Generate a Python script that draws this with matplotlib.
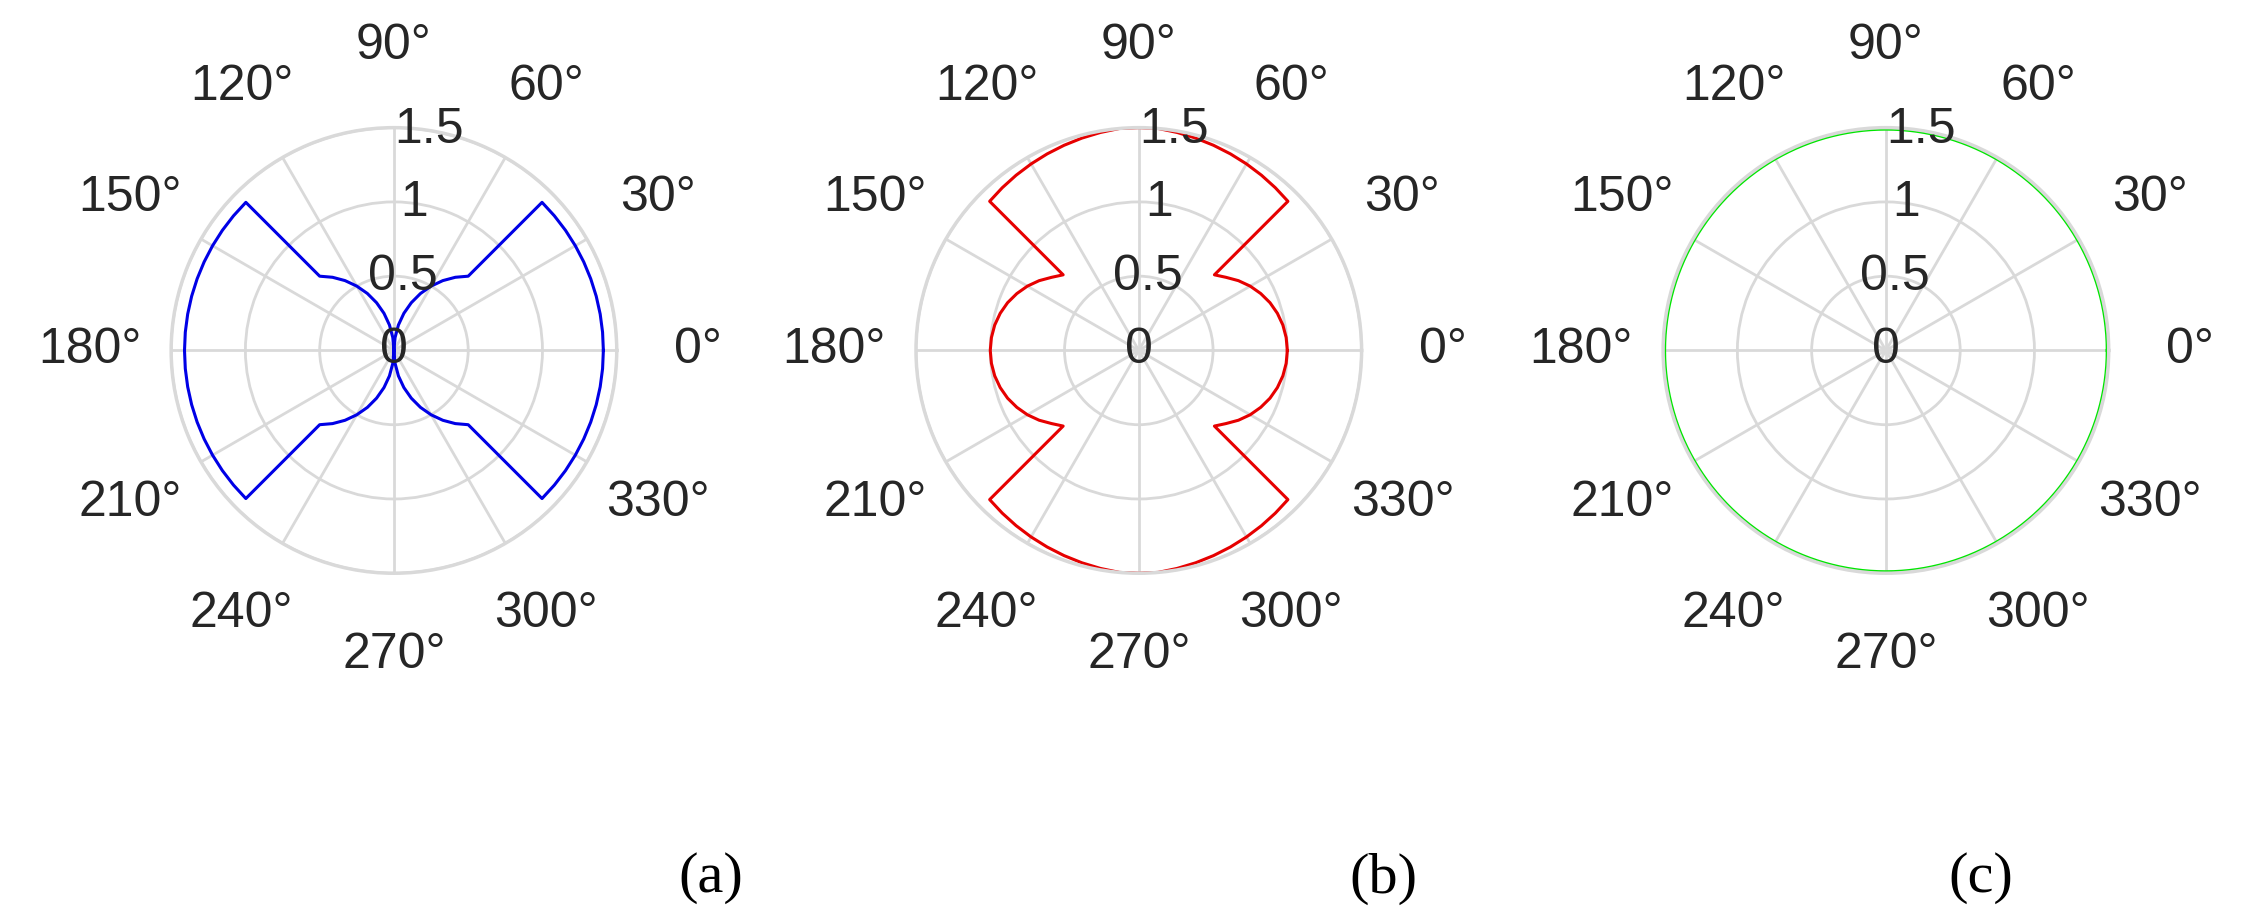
import numpy as np
import matplotlib.pyplot as plt

plt.rcParams['font.family'] = ['Liberation Sans', 'DejaVu Sans']

# quarter-curve values (0..90 deg); the rest follows by symmetry
q_angles = [0, 5, 10, 15, 20, 25, 30, 35, 40, 45, 45, 50, 55, 60, 65, 70, 75, 80, 85, 90]
r_a = [1.41, 1.41, 1.41, 1.41, 1.41, 1.41, 1.41, 1.41, 1.41, 1.41,
       0.707, 0.643, 0.574, 0.5, 0.423, 0.342, 0.259, 0.174, 0.087, 0.0]
r_b = [1.0, 0.996, 0.985, 0.966, 0.94, 0.906, 0.866, 0.819, 0.766, 0.72,
       1.42, 1.43, 1.44, 1.45, 1.46, 1.47, 1.48, 1.49, 1.5, 1.5]
r_c = 1.49
colors = ['#0000e6', '#e60000', '#00e600']
sub_labels = ['(a)', '(b)', '(c)']
rticks = [0, 0.5, 1, 1.5]
rtick_labels = ['0', '0.5', '1', '1.5']
theta_ticks = list(range(0, 360, 30))


def full_curve(angles, radii):
    a = np.array(angles, float)
    r = np.array(radii, float)
    # mirror quarter to 90..180, then upper half to lower half
    a2 = np.concatenate([a, 180 - a[::-1]])
    r2 = np.concatenate([r, r[::-1]])
    a3 = np.concatenate([a2, 360 - a2[::-1]])
    r3 = np.concatenate([r2, r2[::-1]])
    return np.deg2rad(a3), r3


fig = plt.figure(figsize=(22.64, 9.15), dpi=100)
centers = [0.174, 0.503, 0.833]
w, h = 0.197, 0.487
curves = [full_curve(q_angles, r_a), full_curve(q_angles, r_b),
          (np.linspace(0, 2 * np.pi, 361), np.full(361, r_c))]

for i, cx in enumerate(centers):
    ax = fig.add_axes([cx - w / 2, 0.617 - h / 2, w, h], projection='polar')
    th, rr = curves[i]
    ax.plot(th, rr, color=colors[i], lw=2.2)
    ax.set_rlim(0, 1.5)
    ax.set_thetagrids(theta_ticks, [''] * len(theta_ticks))
    for d in theta_ticks:
        ax.text(np.deg2rad(d), 2.05, f'{d}°', ha='center', va='center',
                fontsize=36, color='#262626', clip_on=False)
    ax.set_rticks(rticks)
    ax.set_yticklabels([])
    for rv, lab in zip(rticks, rtick_labels):
        ax.text(np.deg2rad(90) if rv == 0 else np.deg2rad(84 - 2 * rv), rv, lab,
                ha='center', va='center', fontsize=36, color='#262626')
    ax.grid(color='#d9d9d9', lw=2)
    ax.spines['polar'].set_color('#d9d9d9')
    ax.spines['polar'].set_linewidth(2.5)

for x, lab in zip([0.314, 0.611, 0.875], sub_labels):
    fig.text(x, 0.04, lab, ha='center', va='center', fontsize=42,
             family=['Liberation Serif', 'DejaVu Serif'])

fig.savefig('out.png', dpi=100, facecolor='white')
